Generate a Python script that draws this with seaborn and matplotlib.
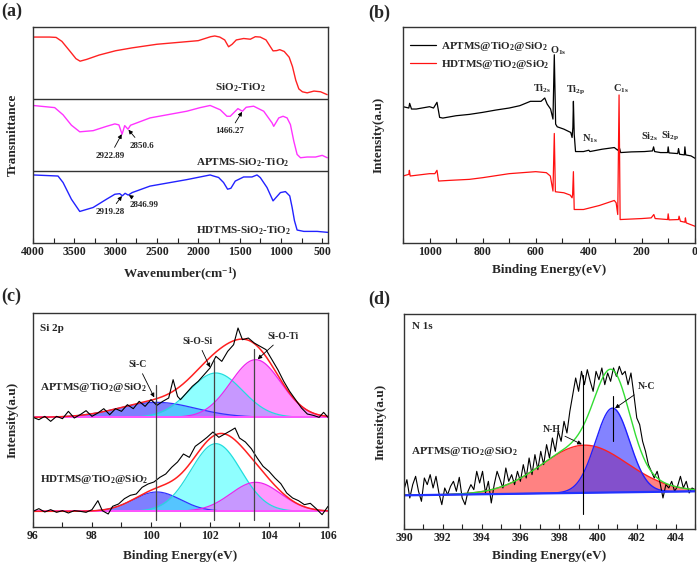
import matplotlib
matplotlib.use("Agg")
import matplotlib.pyplot as plt
from matplotlib.ticker import MultipleLocator
import numpy as np
import seaborn as sns

# ---------------- (a) FTIR, each trace scaled 0-1 inside its own strip
sio2_wn = [4000, 3800, 3720, 3650, 3550, 3480, 3430, 3350, 3200, 3000, 2800, 2500, 2200, 2000,
           1850, 1800, 1740, 1680, 1633, 1590, 1540, 1450, 1370, 1310, 1250, 1180, 1130, 1095,
           1050, 1014, 960, 900, 860, 820, 783, 740, 682, 600, 520, 440]
sio2_t = [0.86, 0.86, 0.855, 0.80, 0.66, 0.56, 0.525, 0.55, 0.61, 0.67, 0.71, 0.76, 0.79, 0.81,
          0.865, 0.875, 0.86, 0.82, 0.725, 0.76, 0.82, 0.84, 0.83, 0.865, 0.86, 0.82, 0.73, 0.668,
          0.672, 0.685, 0.66, 0.58, 0.45, 0.26, 0.14, 0.10, 0.085, 0.11, 0.10, 0.06]

aptms_wn = [4000, 3737, 3636, 3535, 3434, 3272, 3110, 3009, 2960, 2922, 2890, 2850, 2820, 2584,
            2139, 1977, 1856, 1815, 1734, 1653, 1613, 1552, 1520, 1466, 1420, 1330, 1208, 1107,
            1087, 1026, 974, 925, 885, 844, 804, 763, 682, 581, 500, 439]
aptms_t = [0.91, 0.88, 0.78, 0.636, 0.544, 0.56, 0.62, 0.654, 0.64, 0.51, 0.63, 0.58, 0.635, 0.737,
           0.83, 0.88, 0.91, 0.89, 0.85, 0.76, 0.76, 0.83, 0.866, 0.83, 0.885, 0.90, 0.83, 0.668,
           0.62, 0.737, 0.76, 0.737, 0.645, 0.415, 0.23, 0.184, 0.194, 0.194, 0.217, 0.184]

hdtms_wn = [4000, 3697, 3636, 3535, 3434, 3272, 3110, 3009, 2950, 2919, 2885, 2847, 2800, 2584,
            2139, 1856, 1815, 1754, 1694, 1645, 1605, 1552, 1451, 1350, 1289, 1249, 1168, 1095,
            1006, 945, 893, 864, 836, 804, 723, 561, 427]
hdtms_t = [0.945, 0.93, 0.84, 0.608, 0.438, 0.493, 0.608, 0.677, 0.685, 0.655, 0.69, 0.665, 0.70,
           0.79, 0.88, 0.945, 0.93, 0.91, 0.84, 0.747, 0.76, 0.86, 0.917, 0.917, 0.945, 0.908, 0.77,
           0.585, 0.70, 0.714, 0.654, 0.493, 0.31, 0.18, 0.161, 0.161, 0.147]

# ---------------- (b) XPS survey
b_aptms_be = [1100, 1078, 1075, 1068, 1050, 1000, 985, 972, 962, 950, 900, 850, 800, 750, 700, 660,
              620, 580, 566, 557, 544, 535, 530, 525, 519, 494, 468, 463, 460, 458, 455, 450, 420,
              400, 396, 350, 304, 291, 285, 280, 240, 190, 160, 156, 152, 130, 103, 101, 98, 65, 62,
              58, 40, 38, 35, 15, 0]
b_aptms_int = [407, 403, 417, 400, 400, 407, 403, 420, 375, 373, 380, 384, 390, 397, 403, 410,
               423, 423, 433, 415, 400, 370, 562, 355, 347, 340, 330, 315, 345, 423, 325, 273, 273,
               277, 273, 280, 285, 277, 285, 270, 272, 273, 275, 287, 273, 270, 270, 287, 269, 267,
               282, 265, 263, 287, 263, 260, 253]
b_hdtms_be = [1100, 1078, 1076, 1073, 1000, 980, 972, 966, 924, 850, 800, 700, 600, 560, 545, 535,
              530, 526, 494, 470, 463, 461, 458, 455, 420, 360, 304, 297, 291, 286, 282, 200, 165,
              155, 150, 103, 101, 98, 62, 60, 55, 38, 36, 33, 0]
b_hdtms_int = [200, 205, 217, 200, 207, 207, 217, 185, 187, 190, 195, 207, 213, 210, 200, 155,
               327, 153, 150, 143, 135, 145, 213, 100, 100, 112, 127, 120, 85, 442, 70, 73, 75, 85,
               73, 70, 87, 69, 70, 80, 65, 62, 75, 60, 50]
b_peak_labels = ["Ti$_{2s}$", "O$_{1s}$", "Ti$_{2p}$", "C$_{1s}$", "N$_{1s}$", "Si$_{2s}$", "Si$_{2p}$"]
b_peak_be = [576, 516, 449, 278, 395, 173, 95]
b_peak_int = [460, 575, 455, 460, 310, 318, 318]

# ---------------- (c) Si 2p
c_top_be = [96.0, 96.2, 96.4, 96.6, 96.8, 97.0, 97.2, 97.4, 97.6, 97.8, 98.0, 98.2, 98.4, 98.6,
            98.8, 99.0, 99.2, 99.4, 99.6, 99.8, 100.0, 100.2, 100.4, 100.6, 100.75, 100.9, 101.0,
            101.2, 101.4, 101.6, 101.8, 102.0, 102.2, 102.4, 102.6, 102.8, 102.95, 103.1, 103.3,
            103.5, 103.7, 103.9, 104.1, 104.3, 104.5, 104.7, 104.9, 105.1, 105.3, 105.5, 105.7,
            105.85, 106.0]
c_top_int = [329, 322, 332, 317, 332, 325, 347, 327, 337, 349, 332, 342, 355, 337, 355, 347, 367,
             355, 377, 362, 382, 365, 377, 387, 442, 392, 382, 402, 422, 437, 457, 477, 512, 497,
             527, 547, 597, 562, 567, 552, 542, 532, 502, 472, 437, 407, 382, 357, 339, 335, 329,
             344, 329]
c_bot_be = [96.0, 96.2, 96.4, 96.6, 96.8, 97.0, 97.2, 97.4, 97.6, 97.8, 98.0, 98.2, 98.35, 98.55,
            98.7, 98.9, 99.1, 99.3, 99.5, 99.7, 99.9, 100.1, 100.3, 100.5, 100.7, 100.9, 101.1,
            101.3, 101.5, 101.7, 101.9, 102.1, 102.3, 102.5, 102.7, 102.85, 103.0, 103.2, 103.4,
            103.6, 103.8, 104.0, 104.2, 104.4, 104.6, 104.8, 105.0, 105.2, 105.4, 105.6, 105.8,
            106.0]
c_bot_int = [47, 55, 45, 52, 44, 49, 42, 49, 47, 44, 52, 79, 49, 39, 62, 69, 85, 95, 99, 119, 129,
             135, 149, 159, 179, 195, 219, 209, 242, 255, 269, 285, 269, 279, 289, 297, 267, 255,
             235, 207, 182, 167, 147, 130, 102, 87, 79, 67, 71, 55, 37, 62]
c_top_base = 329
c_bot_base = 47
# fitted components: Si-C, Si-O-Si, Si-O-Ti
c_centers = [100.2, 102.2, 103.55]
c_top_height = [45, 133, 173]
c_top_sigma = [1.3, 0.9, 0.85]
c_bot_height = [58, 203, 87]
c_bot_sigma = [0.8, 0.85, 0.85]
c_marks = [100.17, 102.15, 103.5]
c_mark_top = [427, 502, 535]

# ---------------- (d) N 1s
d_be = [390.0, 390.15, 390.3, 390.45, 390.6, 390.75, 390.9, 391.05, 391.2, 391.35, 391.5, 391.65,
        391.8, 391.95, 392.1, 392.25, 392.4, 392.55, 392.7, 392.85, 393.0, 393.15, 393.3, 393.45,
        393.6, 393.75, 393.9, 394.05, 394.2, 394.35, 394.5, 394.65, 394.8, 394.95, 395.1, 395.25,
        395.4, 395.55, 395.7, 395.85, 396.0, 396.15, 396.3, 396.45, 396.6, 396.75, 396.9, 397.05,
        397.2, 397.35, 397.5, 397.65, 397.8, 397.95, 398.1, 398.25, 398.4, 398.55, 398.7, 398.85,
        399.0, 399.15, 399.3, 399.45, 399.6, 399.75, 399.9, 400.05, 400.2, 400.35, 400.5, 400.65,
        400.8, 400.95, 401.1, 401.25, 401.4, 401.55, 401.7, 401.85, 402.0, 402.15, 402.3, 402.45,
        402.6, 402.75, 402.9, 403.05, 403.2, 403.35, 403.5, 403.65, 403.8, 403.95, 404.1, 404.25,
        404.4, 404.55, 404.7, 404.85, 405.0]
d_int = [118, 148, 93, 133, 158, 113, 83, 153, 133, 163, 123, 158, 108, 73, 123, 103, 128, 143,
         113, 155, 93, 73, 113, 133, 118, 173, 138, 173, 108, 143, 78, 133, 173, 148, 123, 183, 143,
         163, 133, 173, 143, 193, 153, 213, 163, 223, 178, 233, 193, 253, 213, 273, 233, 293, 263,
         323, 288, 353, 403, 453, 413, 473, 433, 478, 443, 413, 473, 448, 483, 433, 468, 443, 483,
         458, 488, 463, 473, 433, 468, 403, 333, 313, 263, 233, 193, 173, 153, 173, 138, 93, 133,
         123, 143, 113, 128, 158, 123, 143, 108, 123, 118]
d_base_be = [390, 405]
d_base_int = [101, 113]
# fitted components: N-H, N-C
d_centers = [399.3, 400.75]
d_height = [143, 253]
d_sigma = [2.2, 0.88]


def gauss(x, center, height, sigma):
    return height * np.exp(-(x - center) ** 2 / (2 * sigma ** 2))


sns.set_theme(style="ticks")
plt.rcParams["font.family"] = ["Liberation Serif", "DejaVu Serif"]
plt.rcParams.update({
    "font.weight": "bold",
    "mathtext.fontset": "custom",
    "mathtext.rm": "Liberation Serif:bold",
    "mathtext.it": "Liberation Serif:bold",
    "mathtext.bf": "Liberation Serif:bold",
    "mathtext.default": "rm",
    "axes.linewidth": 1.0,
    "axes.edgecolor": "#333333",
    "xtick.direction": "in",
    "xtick.major.size": 3.5,
    "xtick.minor.size": 3.5,
    "xtick.major.width": 0.8,
    "xtick.minor.width": 0.8,
    "xtick.labelsize": 8.5,
    "xtick.major.pad": 2.5,
    "xtick.color": "#222222",
})

fig = plt.figure(figsize=(6.97, 5.68), dpi=100)
ax_a = fig.add_axes([0.0473, 0.5722, 0.4233, 0.3803])
ax_b = fig.add_axes([0.5782, 0.5722, 0.4189, 0.3803])
ax_c = fig.add_axes([0.0473, 0.0722, 0.4233, 0.3767])
ax_d = fig.add_axes([0.5796, 0.0687, 0.4175, 0.3785])


def style_axes(ax, major, minor, xlabel, ylabel, ylab_x, xlab_y):
    ax.set_yticks([])
    ax.xaxis.set_major_locator(MultipleLocator(major))
    ax.xaxis.set_minor_locator(MultipleLocator(minor))
    ax.tick_params(axis="x", which="both", top=False, direction="in")
    ax.set_xlabel(xlabel, fontsize=9.5, fontweight="bold")
    ax.set_ylabel(ylabel, fontsize=9.5, fontweight="bold")
    ax.yaxis.set_label_coords(ylab_x, 0.5)
    ax.xaxis.set_label_coords(0.5, xlab_y)


arrow = dict(arrowstyle="-|>", color="black", lw=0.6, mutation_scale=6, shrinkA=1, shrinkB=0.5)

# ---- (a)
for wn, t, off, col in [(sio2_wn, sio2_t, 2, "#ff2222"),
                        (aptms_wn, aptms_t, 1, "#ff33ff"),
                        (hdtms_wn, hdtms_t, 0, "#2222ff")]:
    sns.lineplot(x=wn, y=np.array(t) + off, ax=ax_a, color=col, lw=1.0,
                 estimator=None, sort=False)
ax_a.axhline(1, color="#333333", lw=1.0)
ax_a.axhline(2, color="#333333", lw=1.0)
ax_a.set_xlim(4000, 430)
ax_a.set_ylim(0, 3)
ax_a.text(1495, 2.15, "SiO$_2$-TiO$_2$", ha="center", va="center", fontsize=8)
ax_a.text(1459, 1.12, "APTMS-SiO$_2$-TiO$_2$", ha="center", va="center", fontsize=8)
ax_a.text(1447, 0.17, "HDTMS-SiO$_2$-TiO$_2$", ha="center", va="center", fontsize=8)
for lbl, xy, xyt in [("2922.89", (2922, 1.52), (3068, 1.21)),
                     ("2850.6", (2850, 1.58), (2681, 1.35)),
                     ("1466.27", (1466, 1.83), (1616, 1.55)),
                     ("2919.28", (2919, 0.66), (3068, 0.43)),
                     ("2846.99", (2847, 0.67), (2657, 0.53))]:
    ax_a.annotate(lbl, xy=xy, xytext=xyt, ha="center", va="center", fontsize=6.5,
                  arrowprops=arrow)
style_axes(ax_a, 500, 250, "Wavenumber(cm$^{-1}$)", "Transmittance", -0.047, -0.105)

# ---- (b)
sns.lineplot(x=b_aptms_be, y=b_aptms_int, ax=ax_b, color="black", lw=0.9,
             estimator=None, sort=False, label="APTMS@TiO$_2$@SiO$_2$")
sns.lineplot(x=b_hdtms_be, y=b_hdtms_int, ax=ax_b, color="#ff1111", lw=0.9,
             estimator=None, sort=False, label="HDTMS@TiO$_2$@SiO$_2$")
ax_b.set_xlim(1100, 0)
ax_b.set_ylim(0, 645)
for lbl, x, y in zip(b_peak_labels, b_peak_be, b_peak_int):
    ax_b.text(x, y, lbl, ha="center", va="center", fontsize=7.5)
ax_b.legend(loc="upper left", bbox_to_anchor=(0.0, 0.97), frameon=False, fontsize=8,
            handlelength=2.4, handletextpad=0.4, labelspacing=0.45, borderaxespad=0.2)
style_axes(ax_b, 200, 100, "Binding Energy(eV)", "Intensity(a.u)", -0.062, -0.097)

# ---- (c)
xc = np.linspace(96, 106, 500)
fills = ["#2a2aff", "#33ffff", "#ff33ff"]
edges = ["#3333ff", "#22dddd", "#ee22ee"]
alphas = [0.6, 0.55, 0.5]
for base, heights, sigmas in [(c_top_base, c_top_height, c_top_sigma),
                              (c_bot_base, c_bot_height, c_bot_sigma)]:
    total = np.zeros_like(xc)
    for cen, h, s, fc, ec, al in zip(c_centers, heights, sigmas, fills, edges, alphas):
        g = gauss(xc, cen, h, s)
        total += g
        ax_c.fill_between(xc, base, base + g, color=fc, alpha=al, lw=0)
        ax_c.plot(xc, base + g, color=ec, lw=0.9)
    ax_c.axhline(base, color="#ff55ff", lw=1.4, xmin=0, xmax=1)
    ax_c.plot(xc, base + total, color="#ff2020", lw=1.1)
sns.lineplot(x=c_top_be, y=c_top_int, ax=ax_c, color="black", lw=0.8, estimator=None, sort=False)
sns.lineplot(x=c_bot_be, y=c_bot_int, ax=ax_c, color="black", lw=0.8, estimator=None, sort=False)
for xm, top in zip(c_marks, c_mark_top):
    ax_c.plot([xm, xm], [22, top], color="#444444", lw=0.9)
ax_c.set_xlim(96, 106)
ax_c.set_ylim(0, 642)
ax_c.text(96.23, 597, "Si 2p", ha="left", va="center", fontsize=8)
ax_c.text(96.23, 419, "APTMS@TiO$_2$@SiO$_2$", ha="left", va="center", fontsize=8)
ax_c.text(96.23, 142, "HDTMS@TiO$_2$@SiO$_2$", ha="left", va="center", fontsize=8)
ax_c.annotate("Si-C", xy=(100.12, 387), xytext=(99.56, 487), ha="center", va="center",
              fontsize=7, arrowprops=arrow)
ax_c.annotate("Si-O-Si", xy=(102.01, 477), xytext=(101.59, 557), ha="center", va="center",
              fontsize=7, arrowprops=arrow)
ax_c.annotate("Si-O-Ti", xy=(103.6, 502), xytext=(104.47, 572), ha="center", va="center",
              fontsize=7, arrowprops=arrow)
style_axes(ax_c, 2, 1, "Binding Energy(eV)", "Intensity(a.u)", -0.047, -0.107)

# ---- (d)
xd = np.linspace(390, 405, 500)
base_d = np.interp(xd, d_base_be, d_base_int)
g_nh = gauss(xd, d_centers[0], d_height[0], d_sigma[0])
g_nc = gauss(xd, d_centers[1], d_height[1], d_sigma[1])
ax_d.fill_between(xd, base_d, base_d + g_nh, color="#ff4040", alpha=0.65, lw=0)
ax_d.fill_between(xd, base_d, base_d + g_nc, color="#3030ff", alpha=0.6, lw=0)
ax_d.plot(xd, base_d + g_nh, color="#ff2020", lw=1.0)
ax_d.plot(xd, base_d + g_nc, color="#2020ff", lw=1.0)
sns.lineplot(x=d_be, y=d_int, ax=ax_d, color="black", lw=0.8, estimator=None, sort=False)
ax_d.plot(xd, base_d + g_nh + g_nc, color="#33dd33", lw=1.0)
ax_d.plot(xd, base_d, color="#2233ff", lw=1.6)
ax_d.plot([399.25, 399.25], [45, 463], color="black", lw=0.8)
ax_d.plot([400.75, 400.75], [263, 400], color="black", lw=0.8)
ax_d.set_xlim(390, 405)
ax_d.set_ylim(0, 645)
ax_d.text(390.4, 608, "N 1s", ha="left", va="center", fontsize=8)
ax_d.text(390.35, 233, "APTMS@TiO$_2$@SiO$_2$", ha="left", va="center", fontsize=8)
ax_d.annotate("N-H", xy=(399.2, 253), xytext=(397.6, 298), ha="center", va="center",
              fontsize=7, arrowprops=arrow)
ax_d.annotate("N-C", xy=(400.85, 361), xytext=(402.5, 428), ha="center", va="center",
              fontsize=7, arrowprops=arrow)
style_axes(ax_d, 2, 1, "Binding Energy(eV)", "Intensity(a.u)", -0.058, -0.098)

for x, y, s in [(0.002, 0.996, "(a)"), (0.528, 0.991, "(b)"),
                (0.002, 0.493, "(c)"), (0.528, 0.489, "(d)")]:
    fig.text(x, y, s, ha="left", va="top", fontsize=13, fontweight="bold")

fig.savefig("out.png", dpi=100)
